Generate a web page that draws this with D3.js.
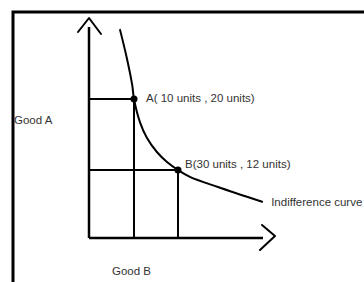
<!DOCTYPE html>
<html>
<head>
<meta charset="utf-8">
<script src="https://cdn.jsdelivr.net/npm/d3@7"></script>
<style>
  body { margin: 0; background: #fff; }
  svg text { font-family: "Liberation Sans", Arial, sans-serif; font-size: 11.5px; fill: #333; }
</style>
</head>
<body>
<svg class="chart" width="364" height="282"></svg>
<script>
// ---- Data ----
// Good B on x, Good A on y, in units
const curveB = [6.9, 8.4, 9.6, 10, 12.7, 15.9, 20.5, 25, 30, 32.8, 39.4, 49.8];
const curveA = [39.2, 31.4, 23.9, 20, 17.4, 15.6, 14.0, 12.9, 12, 10.8, 9.0, 6.4];
const pointNames = ["A", "B"];
const pointB = [10, 30];
const pointA = [20, 12];
const pointLabels = ["A( 10 units , 20 units)", "B(30 units , 12 units)"];
const axisLabels = ["Good B", "Good A"];
const curveLabel = "Indifference curve";

const svg = d3.select("svg.chart");

// Hand drawn sketch, so the scales are piecewise
const x = d3.scaleLinear().domain([0, 10, 30, 50]).range([89, 134, 178, 263]);
const y = d3.scaleLinear().domain([0, 12, 20, 40]).range([238, 170, 99, 27]);

// frame (top and left edges only)
svg.append("path")
    .attr("d", "M13,282V12H364")
    .attr("fill", "none")
    .attr("stroke", "#000")
    .attr("stroke-width", 3);

const g = svg.append("g");

// axes
const x0 = x(0), y0 = y(0), xEnd = x.range()[3], yEnd = y.range()[3];
g.append("line")
    .attr("x1", x0).attr("y1", y0).attr("x2", x0).attr("y2", yEnd)
    .attr("stroke", "#000").attr("stroke-width", 2.5);
g.append("line")
    .attr("x1", x0).attr("y1", y0).attr("x2", xEnd).attr("y2", y0)
    .attr("stroke", "#000").attr("stroke-width", 2.5);
// arrow heads
g.append("path")
    .attr("d", `M${x0 - 11},${yEnd + 5}L${x0},${yEnd - 9}L${x0 + 12},${yEnd + 7}`)
    .attr("fill", "none").attr("stroke", "#000").attr("stroke-width", 2)
    .attr("stroke-linejoin", "round").attr("stroke-linecap", "round");
g.append("path")
    .attr("d", `M${xEnd - 1},${y0 - 13}L${xEnd + 12},${y0 - 2}L${xEnd - 3},${y0 + 12}`)
    .attr("fill", "none").attr("stroke", "#000").attr("stroke-width", 2)
    .attr("stroke-linejoin", "round").attr("stroke-linecap", "round");

// guide lines from each point to the axes
pointNames.forEach((n, i) => {
    g.append("path")
        .attr("d", `M${x(0)},${y(pointA[i])}H${x(pointB[i])}V${y(0)}`)
        .attr("fill", "none")
        .attr("stroke", "#000")
        .attr("stroke-width", 2);
});

// indifference curve
const line = d3.line()
    .x(i => x(curveB[i]))
    .y(i => y(curveA[i]))
    .curve(d3.curveCatmullRom);
g.append("path")
    .attr("d", line(d3.range(curveB.length)))
    .attr("fill", "none")
    .attr("stroke", "#000")
    .attr("stroke-width", 2)
    .attr("stroke-linecap", "round");

// points
g.selectAll("circle.pt")
    .data(pointNames)
    .join("circle")
    .attr("class", "pt")
    .attr("cx", (d, i) => x(pointB[i]))
    .attr("cy", (d, i) => y(pointA[i]))
    .attr("r", 3.5)
    .attr("fill", "#000");

// labels
g.selectAll("text.pt")
    .data(pointLabels)
    .join("text")
    .attr("class", "pt")
    .attr("x", (d, i) => x(pointB[i]) + (i ? 7 : 12))
    .attr("y", (d, i) => y(pointA[i]) + (i ? -2 : 3))
    .text(d => d);

const last = curveB.length - 1;
g.append("text")
    .attr("x", x(curveB[last]) + 9)
    .attr("y", y(curveA[last]) + 4)
    .text(curveLabel);

g.append("text").attr("x", 112).attr("y", 275).text(axisLabels[0]);
g.append("text").attr("x", 14).attr("y", 124).text(axisLabels[1]);
</script>
</body>
</html>
